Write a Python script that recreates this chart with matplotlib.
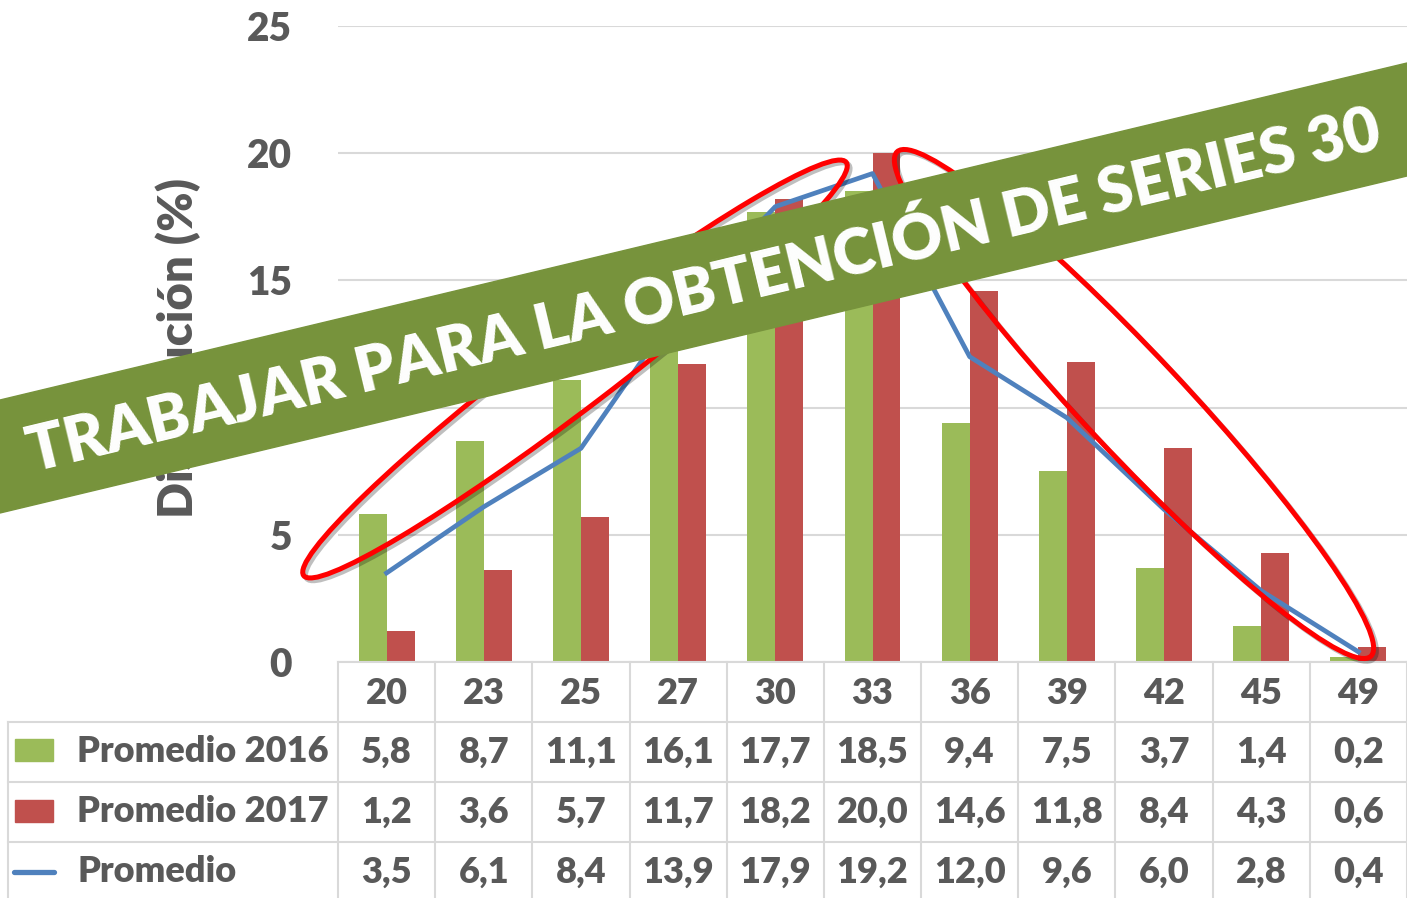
import numpy as np
import matplotlib
matplotlib.use('Agg')
import matplotlib.pyplot as plt
import matplotlib.patheffects as pe
import matplotlib.transforms as mtransforms
from matplotlib.patches import Ellipse, Polygon, Rectangle

plt.rcParams['font.family'] = ['Lato', 'DejaVu Sans']
plt.rcParams['font.weight'] = 'heavy'

edades = ['20', '23', '25', '27', '30', '33', '36', '39', '42', '45', '49']
prom_2016 = [5.8, 8.7, 11.1, 16.1, 17.7, 18.5, 9.4, 7.5, 3.7, 1.4, 0.2]
prom_2017 = [1.2, 3.6, 5.7, 11.7, 18.2, 20.0, 14.6, 11.8, 8.4, 4.3, 0.6]
promedio = [3.5, 6.1, 8.4, 13.9, 17.9, 19.2, 12.0, 9.6, 6.0, 2.8, 0.4]
nombres = ['Promedio 2016', 'Promedio 2017', 'Promedio']
ylabel = 'Distribución (%)'
banner = 'TRABAJAR PARA LA OBTENCIÓN DE SERIES 30'

verde = '#9bbb59'
rojo = '#c0504d'
azul = '#4f81bd'
gris = '#595959'
linea = '#d9d9d9'
verde_banner = '#77933c'

W, H = 1407, 898
fig = plt.figure(figsize=(W / 100, H / 100), dpi=100)
ax = fig.add_axes([338 / W, (H - 662) / H, 1 - 338 / W, 636 / H])

x = np.arange(len(edades))
bw = 0.288
ax.bar(x - bw / 2, prom_2016, bw, color=verde, zorder=2)
ax.bar(x + bw / 2, prom_2017, bw, color=rojo, zorder=2)
ax.plot(x, promedio, color=azul, lw=3.4, zorder=3)

ax.set_xlim(-0.5, len(edades) - 0.5)
ax.set_ylim(0, 25)
ax.set_yticks(np.arange(0, 26, 5))
ax.set_xticks([])
ax.grid(axis='y', color=linea, lw=1.5, zorder=0)
for s in ax.spines.values():
    s.set_visible(False)
ax.tick_params(axis='y', length=0, pad=33, labelsize=28, labelcolor=gris)

# tabla de datos bajo el eje
trans = mtransforms.blended_transform_factory(ax.transData, ax.transAxes)
def fila(px):
    return (662 - px) / 636

left_col = (8 - 338) / 1069
fs = 26
for i, e in enumerate(edades):
    ax.text(i, fila(693), e, transform=trans, ha='center', va='center',
            fontsize=fs, color=gris)
for serie, yc in zip([prom_2016, prom_2017, promedio], [752, 812, 872]):
    for i, v in enumerate(serie):
        ax.text(i, fila(yc), f'{v:.1f}'.replace('.', ','), transform=trans,
                ha='center', va='center', fontsize=fs, color=gris)
for nombre, yc in zip(nombres, [752, 812, 872]):
    ax.text((77 - 338) / 1069, fila(yc), nombre, transform=ax.transAxes,
            ha='left', va='center', fontsize=fs, color=gris)

for i in range(len(edades) + 1):
    ax.plot([i - 0.5, i - 0.5], [0, fila(898)], transform=trans, clip_on=False,
            color=linea, lw=1.5)
ax.plot([0, 1], [0, 0], transform=ax.transAxes, clip_on=False, color=linea, lw=1.5)
for yp in [722, 782, 842]:
    ax.plot([left_col, 1], [fila(yp), fila(yp)], transform=ax.transAxes,
            clip_on=False, color=linea, lw=1.5)
ax.plot([left_col, left_col], [fila(722), fila(898)], transform=ax.transAxes,
        clip_on=False, color=linea, lw=1.5)

# capa superior en pixeles: leyenda, etiqueta, elipses y banda
ov = fig.add_axes([0, 0, 1, 1])
ov.set_xlim(0, W)
ov.set_ylim(H, 0)
ov.axis('off')
ov.patch.set_visible(False)

ov.add_patch(Rectangle((15, 739), 38, 22, color=verde))
ov.add_patch(Rectangle((15, 800), 38, 22, color=rojo))
ov.plot([14, 54], [872, 872], color=azul, lw=3.8, solid_capstyle='round')

ov.text(178, 348, ylabel, rotation=90, ha='center', va='center',
        fontsize=34, color=gris, zorder=1)

sombra = [pe.SimpleLineShadow(offset=(2, -2), shadow_color='k', alpha=0.25), pe.Normal()]
e1 = Ellipse((575, 369), 682, 78, angle=-37.3, fill=False, ec='#ff0000', lw=3.6,
             zorder=3, path_effects=sombra)
e2 = Ellipse((1134, 404), 692, 100, angle=46.8, fill=False, ec='#ff0000', lw=3.6,
             zorder=3, path_effects=sombra)
ov.add_patch(e1)
ov.add_patch(e2)

ov.add_patch(Polygon([(0, 400), (W, 63), (W, 176), (0, 513)], closed=True,
                     color=verde_banner, zorder=5))
ov.text(708, 310, banner, rotation=13.5, rotation_mode='anchor', ha='center',
        va='baseline', fontsize=45, color='white', zorder=6)

fig.savefig('out.png', dpi=100)
